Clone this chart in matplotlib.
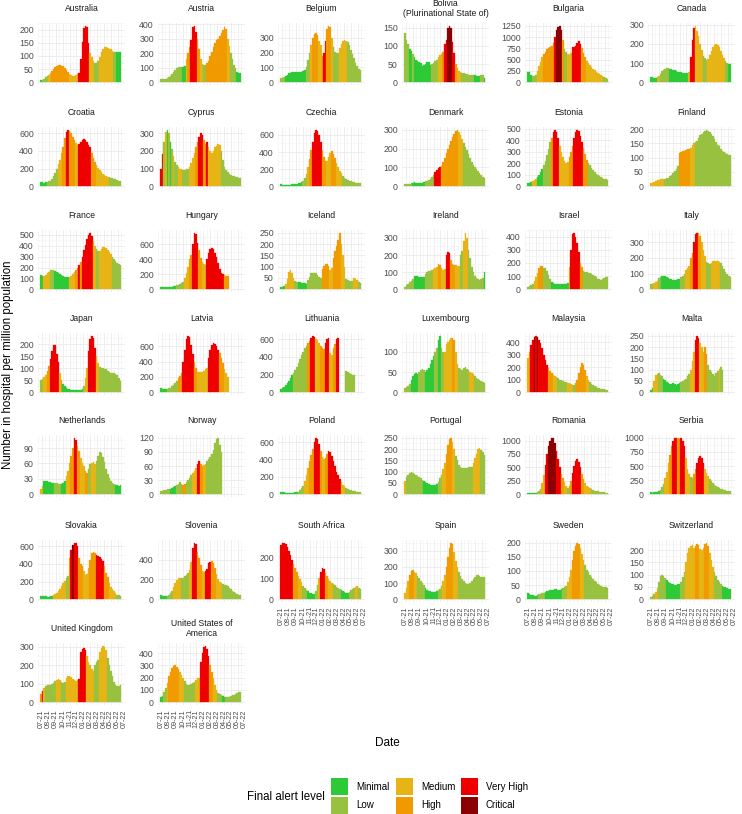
import datetime as dt
import numpy as np
import matplotlib
matplotlib.use("Agg")
import matplotlib.pyplot as plt
import matplotlib.dates as mdates
from matplotlib.patches import Rectangle

plt.rcParams['font.family'] = ['Liberation Sans', 'DejaVu Sans']

LEVELS = ["Minimal", "Low", "Medium", "High", "Very High", "Critical"]
LEVEL_COLORS = ["#2DC937", "#99C140", "#E7B416", "#F09A00", "#EE0000", "#8B0000"]

FIRST_WEEK = dt.date(2021, 6, 28)

# Weekly values (number in hospital per million), grouped in runs of alert level
# level codes: 1 Minimal, 2 Low, 3 Medium, 4 High, 5 Very High, 6 Critical, 0 no data
australia = [(1,[8]), (2,[10,14,18,22]), (3,[28,35]), (4,[42,50,57,62,65,65,63,60,53,45,37]), (3,[30,26,25,25,28,30]),
             (5,[35,90,155,205,215,210,150]), (3,[110,95,80]), (2,[75,75,80]), (3,[95,115,128,133,133,130,128,127,120]),
             (2,[115,115]), (1,[115,115,115])]
austria = [(2,[25,23,22,24,28,35,45,58,72,85,97,105,106,103]), (1,[108,110]), (3,[160]), (4,[200,240]),
           (5,[290,380,390,350]), (4,[300,230]), (3,[160,125]), (2,[120,118]),
           (4,[130,150,180,210,240,270,290,300,320,340,360,380,370]), (3,[300,250]), (2,[200,160,120,100]), (1,[70,65,65])]
belgium = [(2,[30,30,32]), (1,[40,50,60,65,68,70,70,70,70,70,72,75,80]), (2,[100,150,200]), (3,[250]), (4,[300,325,330,315]),
           (3,[280,250]), (4,[175]), (5,[200,280]), (4,[360,380,370]), (3,[300]), (2,[240,205,195,200]),
           (3,[230,260,280,285,280]), (2,[270,250,220,190,160,130,110,90,85])]
bolivia = [(2,[135,115,105]), (1,[92,85]), (2,[78]), (1,[70,62,58,55,52,45,48,50,55,55,48]), (2,[50,53,58,62]),
           (3,[68,75,78]), (4,[82]), (5,[105,115]), (6,[150,155,150]), (5,[110,80]), (4,[50]), (3,[38,30,28]),
           (2,[25,24,22,22,21,20,20,20]), (1,[19,18,18,18]), (2,[20,19]), (1,[12])]
bulgaria = [(1,[230,220,150]), (2,[130,140,170]), (3,[250,350,450,550]), (4,[620,680,730,760,780,800,880]), (5,[1000]),
            (6,[1150,1220,1250,1150]), (4,[940]), (2,[730,680]), (3,[620,600,640]), (5,[780,790,800,880,920,850]),
            (4,[750,650,560]), (3,[480,430,380,340,300,260,230,200,180,160,140]), (2,[110,95,80])]
canada = [(1,[28,26,22,20]), (2,[25]), (3,[32]), (2,[45,58,65,70,72,72]), (1,[70,68,65,62,58,55,53,52,50,50,50,50]),
          (3,[52]), (5,[130,220,285]), (3,[295,270,240,200,170]), (2,[135,125,118]),
          (3,[120,140,165,185,195,198,195,185,165,140,125]), (2,[110,100]), (1,[97,95])]
croatia = [(1,[45,42,40,42]), (2,[48,55,60,80,110,150,200]), (3,[250,300,380]), (4,[450,550]), (5,[620,640]),
           (4,[630,600,560,520]), (3,[490,470]), (5,[480,500,520,540,530,500,470,440]), (4,[380,320,270]),
           (3,[240,210,180,160,140,125,115,105]), (2,[100,95,90,85,80,70,60,55])]
cyprus = [(5,[100,180]), (2,[250]), (3,[310]), (1,[320]), (2,[300]), (1,[250]), (2,[210]), (3,[170]), (2,[140,120]),
          (3,[110,100,95]), (2,[90,90,95,100]), (3,[110,130,160,190]), (4,[220,250]), (5,[280,300,290]), (4,[260,240]),
          (5,[250]), (3,[220,200,190,200,220,230,240,235]), (2,[200,150,110,90,80,70,65,60,55,52,50,48,45])]
czechia = [(1,[20,18,17,16,16,17,18,20,22,25,28,32,38,45]), (2,[60,90,140]), (3,[220]), (4,[320,420]),
           (5,[520,620,660,650,600,520]), (4,[420,340,300]), (3,[300,340,390]), (4,[410,380,330]),
           (3,[270,220,180,150]), (2,[120,100,85,75,65,55,50,45,40,38,36,35])]
denmark = [(2,[10,10,10,12,15]), (1,[18,20,18,15,15,15,18,20]), (2,[25,30,35,40,50,60]), (5,[75,85,95,100]),
           (4,[110,130,150,175,200,220,240,260,280,295,300]), (3,[290,270,250]),
           (2,[230,210,190,170,150,130,115,100,90,80,70,60,50,45])]
estonia = [(1,[30,30,35]), (3,[45,55,65]), (1,[80,100,120,150]), (2,[180,220,270,320,380]), (4,[420]),
           (5,[470,490,470,420]), (3,[350,300,250,220,200,210]), (4,[250,300,350]), (5,[420,470,490,480,440,380]),
           (4,[330,280,230]), (2,[200,180,160,140,125,110,100,90,80,70,65,60,55])]
finland = [(3,[10,12,15,18,20,22,24,25,25]), (2,[26,28,30,35,40,48,55,62,70]), (4,[115,120,125,125,128,130,130]),
           (3,[135,145,150]),
           (2,[155,160,170,180,185,190,195,198,195,190,185,175,165,155,145,140,130,125,120,115,112,110,108])]
france = [(1,[130,125]), (3,[120,130,145,160]), (2,[175,180,178]), (1,[170,160,150,140,130,120,115,110,110]),
          (3,[115,125,140,155]), (4,[180,200]), (5,[225]), (4,[250]), (5,[300,360,410,460,500,520,490]), (3,[440,400]),
          (2,[370,350]), (3,[350,370,385,390,380,360,340,320]), (2,[300,280,260,245,235,225])]
hungary = [(1,[30,30,30,30,30,32,33,35,38,40]), (2,[50,60,70,80,95]), (3,[150,220,300]), (4,[400,450]),
           (5,[600,750,740,620]), (4,[520,420]), (3,[360,330,320]), (5,[400,480,530,550,530,480,430,350,270,210,200]),
           (4,[190,180,170])]
iceland = [(1,[8,10,12]), (3,[25,45,75,85,70,50]), (2,[35,32]), (1,[30,30,28,28,26,25]),
           (2,[40,55,70,72,72,70,65,55,50]), (4,[90,105,110,112,105]), (3,[85,95]), (4,[140,170,190,220,250]),
           (3,[200,150,100]), (2,[45,40,35,35,38]), (3,[48,45,40]), (2,[30,28])]
ireland = [(2,[15,22,30,40,50,60]), (1,[78,80,78,72,70,70,72]), (2,[90,100,105,108,112]), (3,[120,125,130]),
           (4,[145,140]), (3,[125,115,120]), (5,[200,220,210]), (4,[170,150,140]), (3,[140,138,135]), (2,[200,225]),
           (3,[280,330,300]), (2,[230,180,130,100,80,65,58,55,58,65]), (1,[100])]
israel = [(2,[15,22,30,40]), (3,[60,90,120]), (4,[160,175,175]), (2,[165,160,140,110,80]),
          (1,[55,45,40,38,38,38,40,40,42,42,45]), (3,[170]), (5,[300,420,430,400,350,280]), (4,[200,170]),
          (2,[140,130,128,125,120,115,110,100,90,80,75,70,75,85,90,92])]
italy = [(2,[35,32]), (3,[38,45,55]), (2,[70,80]), (1,[85,85,82,78,72,66,62,60,58,60,62,65]), (2,[75,85,100]),
         (3,[120,135,150]), (4,[200,230]), (5,[300,350,360]), (4,[360,340]), (3,[300,250,210]), (2,[175,165,160]),
         (3,[170,178,180,180,178,175]), (2,[165,150,130,110,95,85,80])]
japan = [(2,[50,55]), (3,[65,72]), (4,[90,110]), (5,[140,170,195,195,160,125]), (3,[80]), (4,[50]),
         (1,[35,25,18,14,12,11,10,10,9,9,9,10,12]), (2,[25]), (3,[60,100]), (5,[170,220,235,225,185]), (3,[150,120]),
         (2,[105,102,100,98,95,90,85,80,78,78,75,70,60,45])]
latvia = [(1,[50,45,40,38]), (2,[40,50,60,75,95,120,150]), (4,[180,210,250]), (5,[400,560,700,740,720,620,500]),
          (4,[400,320]), (3,[270,260,260,270,280,300,320]), (5,[450,560,620,640,630,600,560]), (4,[520,450,380]),
          (3,[300,250,200])]
lithuania = [(1,[40,50,60,80,100,130,160,190]), (2,[220,250,290,330,380,420,460,500,530]), (4,[560,580]),
             (5,[620,640,630]), (3,[600,590,560]), (4,[520,500,490]), (5,[560,600,620]), (3,[450,420]), (4,[500,550]),
             (5,[600,610]), (0,[None,None,None,None]), (2,[240,230,220,210,200,190])]
luxembourg = [(2,[10,12,15,20]), (1,[30,40,45,48,45]), (2,[50,55,58,55]), (1,[50,55,60,70,80,90]), (2,[100,110]),
              (1,[130,140]), (2,[110,100]), (3,[100,120,125,130,135]), (4,[135,130]), (3,[100,70]),
              (2,[60,58,55,60,62,58,55]), (3,[50,48,45]), (2,[40,35,32,30,28,25,22])]
malaysia = [(3,[270]), (4,[320]), (5,[380,420]), (6,[440]), (5,[450]), (6,[440]), (5,[420,390,350,300,260,220]),
            (4,[190,170,150]), (3,[140,130,120]), (2,[110,100,95,90,85,80]), (3,[75,70,65,60]), (2,[60,70]),
            (4,[100,150,200,230,220,180]), (3,[130,100]), (2,[80,65,55,48,40,35,30,28,25,22,20,20])]
malta = [(1,[10,20]), (3,[50,75,80]), (2,[85,75,70]), (1,[60,55,45,40,35,38,40,35,30,35,40]),
         (2,[45,50,55,60,70,80]), (3,[100,140,180]), (5,[230,250,240]), (3,[220,200,180]), (4,[200,170]),
         (2,[120,100,90,80,70,85,95]), (3,[105]), (2,[110,100])]
netherlands = [(3,[10,15]), (1,[25,26,25,24,23,22,22]), (2,[22,21,20,20]), (1,[20,22,25]), (3,[35,45,60]),
               (4,[75,90]), (5,[110,105]), (4,[95,85]), (3,[70,60,55]), (4,[45,42]), (2,[50,58]), (3,[60,62,58]),
               (2,[65,75,82,80,72,62,50,40,32,26,22,20]), (1,[18,17,16,18])]
norway = [(2,[6,7,8,9,10,12]), (1,[12,14,15,18]), (2,[20,22,25,22]), (4,[20,22]), (2,[25,30,35,40]), (3,[45,50,55]),
          (5,[65,70]), (4,[65,60]), (3,[62,65]), (2,[70,75,80,85,95,110,118,120,105,90])]
poland = [(1,[25,22,20,18,17,16,16,17,18,20,22]), (2,[30,45,70,100]), (3,[150,220,300]), (4,[380,450,520]),
          (5,[600,650,640,580]), (4,[500]), (3,[430,400]), (4,[420,460]), (5,[500,490,440,380,320,260,220,180]),
          (3,[140,110,90]), (2,[70,60,50,45,40,35,32,30,28,25])]
portugal = [(3,[60]), (2,[75,85,95,98,95,90,85,80,75,70,65]), (1,[60,55,50,45,42,40,40,42,45]), (2,[55,70,85]),
            (3,[110,140]), (4,[180,220,245,250]), (3,[230,200]), (2,[170,150,130,120,115,115,115,118,120,120,122]),
            (3,[140,160,180,200,205]), (2,[195,185,175])]
romania = [(1,[25,22,20,22,25,30]), (2,[40,60,100]), (3,[200,350]), (5,[550,750]), (6,[900,1000,1050,1040,950]),
           (5,[800,650,500]), (4,[380,300]), (3,[220,160]), (2,[120,150]), (4,[250]), (5,[400,520,620,650,600,500]),
           (4,[380,280]), (3,[200,160,130,110]), (2,[90,75,65,55,50,45,40,35,32,30,28])]
serbia = [(1,[30,28,30,35,40,50]), (2,[80,120,180]), (3,[280,400,550]), (4,[700,850]), (5,[950,1000,1000]),
          (4,[1000,980]), (5,[1000,950,850]), (3,[650,450,350]), (2,[300,280]), (4,[350,450]),
          (5,[550,640,680,650,550]), (3,[450,380,320]), (2,[270,230,200,170,150,130,115,100,90,80,70,60,55,50])]
slovakia = [(1,[40,38,35,32,30,30,32,35]), (3,[50,60,75,95,120,150,180,210]), (2,[240,260]), (3,[470]), (5,[560]),
            (6,[610]), (5,[640,640,600]), (4,[470,400,380]), (3,[320,280,290,350]), (4,[450,520,540,530]),
            (5,[500,490,480,460,430]), (4,[380,300,250]), (3,[180,140,110,90,70]), (2,[50,45,40])]
slovenia = [(1,[40,35,30,30]), (2,[35,45,60,80]), (3,[120,160,190,210,215]), (2,[215,215,230,240,260]),
            (3,[300,380]), (5,[520,570,560]), (4,[480,420,350]), (3,[280,270]), (5,[290,310,370,380]),
            (4,[385,370,320]), (3,[250,200,170,160]), (2,[150,145,140,130,115,100,85,75,65,55,45,40])]
south_africa = [(5,[260,270,270,265,250,230,210,190]), (4,[170,150,130]), (3,[110,95,80]), (2,[65,55,45]),
                (1,[38,32,28,26,25]), (2,[40,70]), (3,[100]), (5,[130,150,145]), (4,[125,110]), (3,[95,85,78]),
                (2,[72,68,60,55,50]), (1,[42,38,35,32,30]), (2,[35,42,50,55]), (3,[60,62]), (2,[55,50])]
spain = [(3,[40,70,110]), (4,[150,175,180]), (3,[170,160]), (2,[145,130,115,100,85]), (1,[70,60,52,48,45,44,45,48]),
         (2,[55,65,80]), (3,[110,150]), (4,[200,260,320,350,340]), (3,[290,240,200]),
         (2,[170,145,125,110,100,95,92,100,110,125,140,150,150,145,140,140,135])]
sweden = [(1,[22,18,15,14,13,13,14]), (2,[18,20,22,22]), (1,[25,28,30,32,33,34,35,35,34,33,35]), (2,[38,42,48]),
          (3,[60,80,105]), (4,[140,170,190,200,195]), (3,[180,160,140]),
          (2,[120,105,95,85,78,72,65,60,55,50,48,45,42,42,40])]
switzerland = [(2,[10,15,20]), (3,[30,45]), (2,[70,95,100,95,88]), (1,[80,70,65,62,60,58,58,60,62]), (2,[70,90,110]),
               (3,[150,190,210,215,220,210]), (4,[215,225,220]), (3,[205,200,210]), (4,[225,230,215]),
               (3,[190,160,130]), (2,[110,95,80,70,60]), (1,[55,50,48,45,42,40])]
united_kingdom = [(4,[45]), (5,[60]), (3,[75]), (2,[90,92,92,95,100,105,112]), (3,[120,125,122]), (2,[110,105,108]),
                  (3,[130,140,142,135,125,118,115,118]), (5,[125,270,290,295,280]), (3,[250,220,200,180,170]),
                  (2,[200,215,230]), (3,[270,295,305,300,280]), (2,[240,200,170,140,110,95,88,90,95])]
united_states = [(1,[45,50]), (2,[80,115]), (3,[160]), (4,[210,250,280,295,300,290,270]), (3,[250,220,195]),
                 (2,[170,150,140,138,145,155,165]), (3,[185,195,195]), (5,[330,400,450,460,430,380]), (4,[300,250]),
                 (3,[200,140,100]), (2,[75,65,55]), (1,[48,42]), (2,[40,40,42,48,55,62,70,75,80,82])]

COUNTRIES = ["Australia", "Austria", "Belgium", "Bolivia\n(Plurinational State of)", "Bulgaria", "Canada",
             "Croatia", "Cyprus", "Czechia", "Denmark", "Estonia", "Finland",
             "France", "Hungary", "Iceland", "Ireland", "Israel", "Italy",
             "Japan", "Latvia", "Lithuania", "Luxembourg", "Malaysia", "Malta",
             "Netherlands", "Norway", "Poland", "Portugal", "Romania", "Serbia",
             "Slovakia", "Slovenia", "South Africa", "Spain", "Sweden", "Switzerland",
             "United Kingdom", "United States of\nAmerica"]
SERIES = [australia, austria, belgium, bolivia, bulgaria, canada,
          croatia, cyprus, czechia, denmark, estonia, finland,
          france, hungary, iceland, ireland, israel, italy,
          japan, latvia, lithuania, luxembourg, malaysia, malta,
          netherlands, norway, poland, portugal, romania, serbia,
          slovakia, slovenia, south_africa, spain, sweden, switzerland,
          united_kingdom, united_states]
Y_STEP = [50, 100, 100, 50, 250, 100,
          200, 100, 200, 100, 100, 50,
          100, 200, 50, 100, 100, 100,
          50, 200, 200, 50, 100, 50,
          30, 30, 200, 50, 250, 250,
          200, 200, 100, 100, 50, 50,
          100, 100]

W, H = 742, 814
fig = plt.figure(figsize=(W / 100, H / 100), dpi=100)
fig.patch.set_facecolor("white")

COL_LEFT = [38, 158, 278, 402, 525, 648]
ROW_TOP = [23, 127, 230, 333, 435, 540, 643]
PW, PH = 87, 62

x0 = mdates.date2num(dt.date(2021, 6, 15))
x1 = mdates.date2num(dt.date(2022, 7, 3))
base = mdates.date2num(FIRST_WEEK)

for k, (name, segs) in enumerate(zip(COUNTRIES, SERIES)):
    r, c = divmod(k, 6)
    ax = fig.add_axes([COL_LEFT[c] / W, 1 - (ROW_TOP[r] + PH) / H, PW / W, PH / H])
    ax.set_facecolor("white")
    idx = 0
    vmax = 0
    for lvl, vals in segs:
        xs, ys = [], []
        for v in vals:
            if v is not None:
                xs.append(base + 7 * idx)
                ys.append(v)
                vmax = max(vmax, v)
            idx += 1
        if lvl > 0 and xs:
            col = LEVEL_COLORS[lvl - 1]
            ax.bar(xs, ys, width=7, color=col, edgecolor=col, linewidth=0.2, zorder=3)
    top = vmax * 1.05
    ax.set_ylim(-vmax * 0.05, top)
    ax.set_xlim(x0, x1)
    step = Y_STEP[k]
    ax.set_yticks(np.arange(0, top, step))
    ax.set_yticks(np.arange(step / 2, top, step), minor=True)
    ax.xaxis.set_major_locator(mdates.MonthLocator())
    ax.xaxis.set_minor_locator(mdates.MonthLocator(bymonthday=16))
    ax.xaxis.set_major_formatter(mdates.DateFormatter("%m-%y"))
    ax.grid(True, which="major", color="#EBEBEB", linewidth=0.6, zorder=0)
    ax.grid(True, which="minor", color="#F2F2F2", linewidth=0.4, zorder=0)
    ax.set_axisbelow(True)
    for s in ax.spines.values():
        s.set_visible(False)
    ax.tick_params(which="both", length=0)
    ax.tick_params(axis="y", labelsize=6.3, labelcolor="#4D4D4D", pad=3)
    bottom_row = (r == 6) or (r == 5 and c >= 2)
    if bottom_row:
        ax.tick_params(axis="x", labelsize=5.2, labelcolor="#4D4D4D", pad=3, labelrotation=90)
    else:
        ax.tick_params(axis="x", labelbottom=False)
    # strip title
    fig.text((COL_LEFT[c] + PW / 2) / W, 1 - (ROW_TOP[r] - 14.5) / H, name, ha="center", va="center",
             fontsize=6.2, color="#1A1A1A", linespacing=1.0)

# axis titles
fig.text(387 / W, 1 - 743 / H, "Date", ha="center", va="center", fontsize=8.5, color="black")
fig.text(8 / W, 1 - 365 / H, "Number in hospital per million population", ha="center", va="center",
         rotation=90, fontsize=8.3, color="black")

# legend
fig.text(247 / W, 1 - 797 / H, "Final alert level", ha="left", va="center", fontsize=8.3, color="black")
key_x = [331, 331, 396, 396, 461, 461]
key_y = [778, 797, 778, 797, 778, 797]
for name, col, kx, ky in zip(LEVELS, LEVEL_COLORS, key_x, key_y):
    fig.add_artist(Rectangle((kx / W, 1 - (ky + 17) / H), 17 / W, 17 / H, transform=fig.transFigure,
                             facecolor=col, edgecolor="none"))
    fig.text((kx + 25) / W, 1 - (ky + 8.5) / H, name, ha="left", va="center", fontsize=7, color="black")

fig.savefig("out.png", dpi=100, facecolor="white")
